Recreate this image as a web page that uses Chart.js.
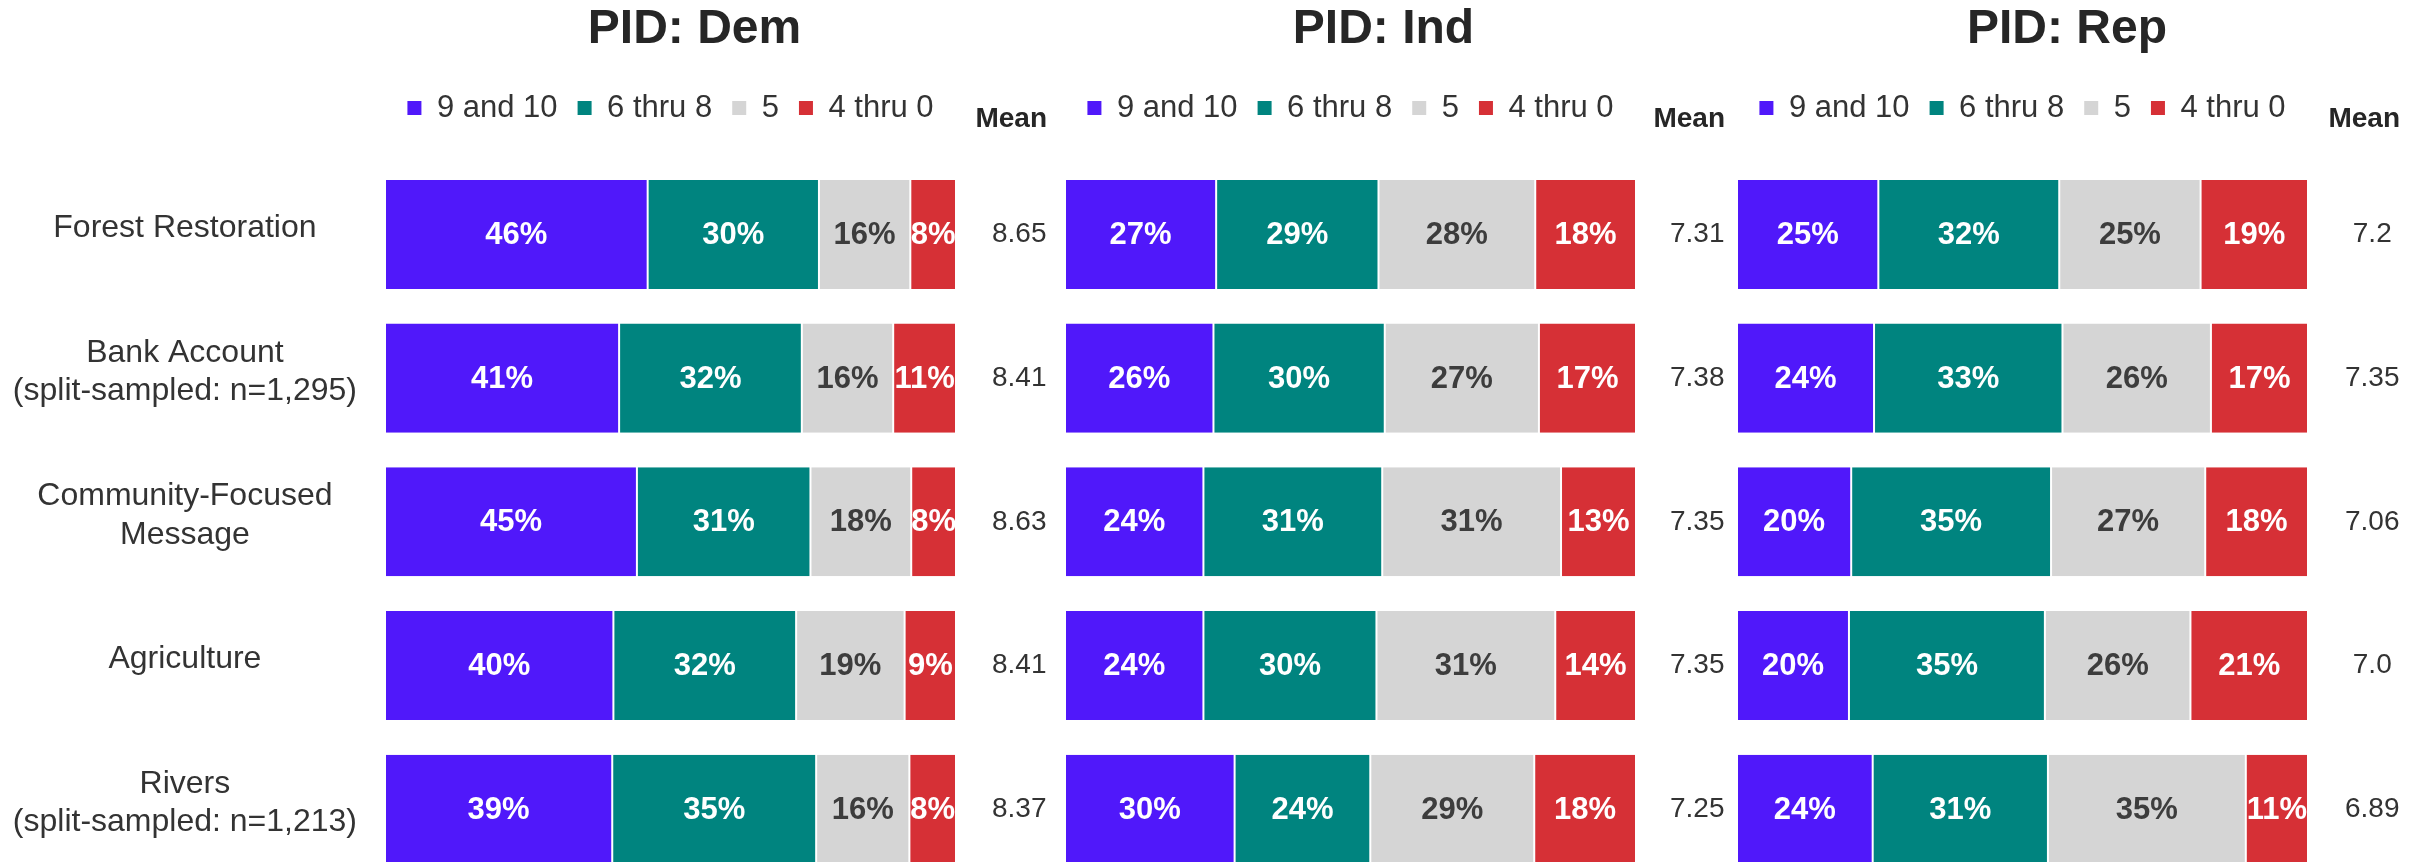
<!DOCTYPE html>
<html>
<head>
<meta charset="utf-8">
<script src="https://cdn.jsdelivr.net/npm/chart.js@4.4.1/dist/chart.umd.min.js"></script>
<style>
html, body { margin: 0; padding: 0; background: #fff; overflow: hidden; }
#contenedor { position: relative; width: 2417px; height: 862px; overflow: hidden; background: #fff; }
#contenedor canvas { position: absolute; top: 0; }
</style>
</head>
<body>
<div id="contenedor">
    <canvas id="grafica_dem" width="1389" height="881" style="left:0px"></canvas>
    <canvas id="grafica_ind" width="693" height="881" style="left:1037px"></canvas>
    <canvas id="grafica_rep" width="700" height="881" style="left:1717px"></canvas>
</div>
<script>
// categorias y series
var categorias = [
    "Forest Restoration",
    ["Bank Account", "(split-sampled: n=1,295)"],
    ["Community-Focused", "Message"],
    "Agriculture",
    ["Rivers", "(split-sampled: n=1,213)"]
]
var series = ["9 and 10", "6 thru 8", "5", "4 thru 0"]

// PID: Dem
var dem_9a10 = [46, 41, 45, 40, 39]
var dem_6a8 = [30, 32, 31, 32, 35]
var dem_5 = [16, 16, 18, 19, 16]
var dem_4a0 = [8, 11, 8, 9, 8]
var dem_media = [8.65, 8.41, 8.63, 8.41, 8.37]

// PID: Ind
var ind_9a10 = [27, 26, 24, 24, 30]
var ind_6a8 = [29, 30, 31, 30, 24]
var ind_5 = [28, 27, 31, 31, 29]
var ind_4a0 = [18, 17, 13, 14, 18]
var ind_media = [7.31, 7.38, 7.35, 7.35, 7.25]

// PID: Rep
var rep_9a10 = [25, 24, 20, 20, 24]
var rep_6a8 = [32, 33, 35, 35, 31]
var rep_5 = [25, 26, 27, 26, 35]
var rep_4a0 = [19, 17, 18, 21, 11]
var rep_media = [7.2, 7.35, 7.06, 7.0, 6.89]

var colores = ["#5018fa", "#00847f", "#d5d5d5", "#d63036"]
var colores_texto = ["#ffffff", "#ffffff", "#3d3d3d", "#ffffff"]
var familia = "'Liberation Sans', Arial, Helvetica, sans-serif"

Chart.defaults.font.family = familia
Chart.defaults.color = "#333333"

// porcentajes dentro de cada segmento
var etiquetas_barras = {
    id: "etiquetas_barras",
    afterDatasetsDraw(chart) {
        var ctx = chart.ctx
        ctx.save()
        ctx.font = "bold 31px " + familia
        ctx.textAlign = "center"
        ctx.textBaseline = "middle"
        chart.data.datasets.forEach((ds, i) => {
            chart.getDatasetMeta(i).data.forEach((barra, j) => {
                var p = barra.getProps(["x", "base", "y"], true)
                ctx.fillStyle = colores_texto[i]
                ctx.fillText(ds.valores[j] + "%", (p.x + p.base) / 2, p.y + 1)
            })
        })
        ctx.restore()
    }
}

// encabezado "Mean" sobre la columna de medias
var titulo_media = {
    id: "titulo_media",
    afterDraw(chart) {
        var escala = chart.scales.media
        var ctx = chart.ctx
        ctx.save()
        ctx.font = "28px " + familia
        var ancho = Math.max(...escala.getLabels().map(t => ctx.measureText(t).width))
        ctx.font = "bold 28px " + familia
        ctx.fillStyle = "#262626"
        ctx.textAlign = "center"
        ctx.textBaseline = "middle"
        ctx.fillText("Mean", escala.left + escala.options.ticks.padding + ancho / 2, 119)
        ctx.restore()
    }
}

function texto_media(v) {
    return Number.isInteger(v) ? v.toFixed(1) : String(v)
}

// ancho fijo del eje y sin relleno arriba/abajo (si no, encoge el area)
function fijar_ancho(ancho) {
    return s => {
        s.width = ancho
        s.paddingTop = 0
        s.paddingBottom = 0
    }
}

function Panel_pid({id_canvas, titulo, valores, medias, eje_izq, ancho_media, relleno_media, mostrar_categorias}) {
    var grafica
    var lienzo = document.getElementById(id_canvas)
    // cada fila se lleva a 100 (los porcentajes redondeados no siempre suman 100)
    var sumas = categorias.map((c, j) => valores.reduce((a, serie) => a + serie[j], 0))
    var conjuntos = series.map((nombre, k) => ({
        label: nombre,
        data: valores[k].map((v, j) => v / sumas[j] * 100),
        valores: valores[k],
        backgroundColor: colores[k],
        borderColor: "#ffffff",
        borderWidth: {left: 1, right: 1, top: 0, bottom: 0},
        borderSkipped: false,
        barPercentage: 0.7587,
        categoryPercentage: 1
    }))
    this.pintar_grafica = function pintar_grafica() {
        if (grafica) grafica.destroy()
        grafica = new Chart(lienzo, {
            type: "bar",
            data: {labels: categorias, datasets: conjuntos},
            plugins: [etiquetas_barras, titulo_media],
            options: {
                indexAxis: "y",
                responsive: false,
                animation: false,
                layout: {padding: 0},
                plugins: {
                    title: {
                        display: true, text: titulo, color: "#262626",
                        font: {size: 48, weight: "bold"},
                        padding: {top: 1, bottom: 14}
                    },
                    legend: {
                        display: true, position: "top", fullSize: false,
                        labels: {
                            boxWidth: 14, boxHeight: 14, padding: 20,
                            color: "#333333", font: {size: 31},
                            generateLabels: c => Chart.defaults.plugins.legend.labels.generateLabels(c)
                                .map(l => Object.assign(l, {lineWidth: 0}))
                        }
                    },
                    tooltip: {enabled: false}
                },
                scales: {
                    x: {
                        stacked: true, min: 0, max: 100, position: "top",
                        ticks: {display: false}, grid: {display: false}, border: {display: false},
                        afterFit: s => { s.height = 29 }
                    },
                    y: {
                        stacked: true,
                        ticks: {
                            display: mostrar_categorias, color: "#333333",
                            font: {size: 32}, crossAlign: "center", padding: 20, labelOffset: -6
                        },
                        grid: {display: false}, border: {display: false},
                        afterFit: fijar_ancho(eje_izq)
                    },
                    media: {
                        type: "category", position: "right", offset: true,
                        labels: medias.map(texto_media),
                        ticks: {color: "#333333", font: {size: 28}, crossAlign: "center", padding: relleno_media},
                        grid: {display: false}, border: {display: false},
                        afterFit: fijar_ancho(ancho_media)
                    }
                }
            }
        })
    }
}

var paneles = [
    new Panel_pid({id_canvas: "grafica_dem", titulo: "PID: Dem",
        valores: [dem_9a10, dem_6a8, dem_5, dem_4a0], medias: dem_media,
        eje_izq: 385, ancho_media: 433, relleno_media: 28, mostrar_categorias: true}),
    new Panel_pid({id_canvas: "grafica_ind", titulo: "PID: Ind",
        valores: [ind_9a10, ind_6a8, ind_5, ind_4a0], medias: ind_media,
        eje_izq: 28, ancho_media: 94, relleno_media: 26, mostrar_categorias: false}),
    new Panel_pid({id_canvas: "grafica_rep", titulo: "PID: Rep",
        valores: [rep_9a10, rep_6a8, rep_5, rep_4a0], medias: rep_media,
        eje_izq: 20, ancho_media: 109, relleno_media: 29, mostrar_categorias: false})
]
paneles.forEach(p => p.pintar_grafica())
</script>
</body>
</html>
